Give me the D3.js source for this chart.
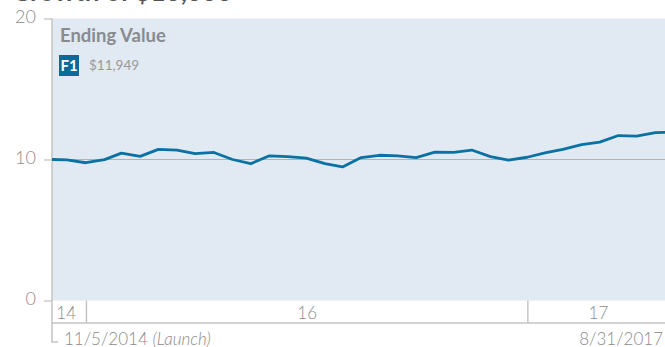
<!DOCTYPE html>
<html>
<head>
<meta charset="utf-8">
<script src="https://cdn.jsdelivr.net/npm/d3@7"></script>
<style>
  body { margin: 0; background: #fff; }
  svg { display: block; font-family: Lato, "Open Sans", sans-serif; }
</style>
</head>
<body>
<div id="chart"></div>
<script>
// month-end values of a $10,000 investment (in thousands)
const dates = ["2014-11-05", "2014-11-30", "2014-12-31",
  "2015-01-31", "2015-02-28", "2015-03-31", "2015-04-30", "2015-05-31", "2015-06-30",
  "2015-07-31", "2015-08-31", "2015-09-30", "2015-10-31", "2015-11-30", "2015-12-31",
  "2016-01-31", "2016-02-29", "2016-03-31", "2016-04-30", "2016-05-31", "2016-06-30",
  "2016-07-31", "2016-08-31", "2016-09-30", "2016-10-31", "2016-11-30", "2016-12-31",
  "2017-01-31", "2017-02-28", "2017-03-31", "2017-04-30", "2017-05-31", "2017-06-30",
  "2017-07-31", "2017-08-31"];
const values = [10.0, 9.98, 9.77,
  9.99, 10.45, 10.22, 10.72, 10.67, 10.41,
  10.5, 10.0, 9.7, 10.26, 10.2, 10.1,
  9.71, 9.47, 10.14, 10.3, 10.25, 10.13,
  10.52, 10.51, 10.67, 10.2, 9.96, 10.16,
  10.48, 10.72, 11.05, 11.23, 11.7, 11.66,
  11.9, 11.949];
const yTicks = [0, 10, 20];
const yearBreaks = ["2015-01-01", "2017-01-01"];
const yearLabels = ["14", "16", "17"];
const endingValue = "$11,949";

const w = 665, h = 347;
// the chart runs a little past the right edge of the window
const padL = 52, padR = 674, plotTop = 18.5, plotBottom = 300.5, bandBottom = 323;
const parse = d3.timeParse("%Y-%m-%d");
const data = dates.map((d, i) => [parse(d), values[i]]);

const xScale = d3.scaleTime()
  .domain([data[0][0], data[data.length - 1][0]])
  .range([padL, padR]);
const yScale = d3.scaleLinear().domain([0, 20]).range([plotBottom, plotTop]);

const svg = d3.select("#chart").append("svg").attr("width", w).attr("height", h);

// clipped title from above
svg.append("text").attr("x", 232).attr("y", 0.5).attr("text-anchor", "end")
  .attr("font-size", 26).attr("font-weight", 700).attr("fill", "#555")
  .text("Growth of $10,000");

// plot background
svg.append("rect").attr("x", padL).attr("y", plotTop)
  .attr("width", padR - padL).attr("height", plotBottom - plotTop)
  .attr("fill", "#e1e9f2");

// y axis
const yAxis = d3.axisLeft(yScale).tickValues(yTicks).tickSize(8).tickPadding(8);
const gy = svg.append("g").attr("transform", "translate(" + padL + ",0)").call(yAxis);
gy.select(".domain").remove();
gy.selectAll(".tick line").attr("stroke", "#b3b3b3");
gy.selectAll(".tick text").attr("fill", "#8c8c8c").attr("font-size", 18)
  .attr("font-weight", 300).attr("font-family", "Lato, sans-serif").attr("dy", "0.2em");

// reference line at 10
svg.append("line").attr("x1", padL).attr("x2", padR)
  .attr("y1", yScale(10)).attr("y2", yScale(10))
  .attr("stroke", "#b3b3b3").attr("stroke-width", 1.2);

// left axis line with launch hook
svg.append("path")
  .attr("d", "M" + padL + "," + plotTop + "V342H" + (padL + 6))
  .attr("fill", "none").attr("stroke", "#c4c4c4").attr("stroke-width", 1.5);

// year band
svg.append("line").attr("x1", padL).attr("x2", padR)
  .attr("y1", bandBottom).attr("y2", bandBottom)
  .attr("stroke", "#c4c4c4").attr("stroke-width", 1.5);
const bounds = [xScale.domain()[0]].concat(yearBreaks.map(parse), [xScale.domain()[1]]);
yearBreaks.forEach(d => {
  svg.append("line").attr("x1", xScale(parse(d))).attr("x2", xScale(parse(d)))
    .attr("y1", plotBottom).attr("y2", bandBottom)
    .attr("stroke", "#c4c4c4").attr("stroke-width", 1.5);
});
yearLabels.forEach((lab, i) => {
  const x0 = xScale(bounds[i]), x1 = Math.min(xScale(bounds[i + 1]), w);
  svg.append("text")
    .attr("x", (x0 + x1) / 2 - (i === 0 ? 3 : 0) + (i === 2 ? 2 : 0))
    .attr("y", 319).attr("text-anchor", "middle")
    .attr("font-size", 17).attr("font-weight", 300).attr("fill", "#8c8c8c")
    .text(lab);
});

// date labels
const launch = svg.append("text").attr("x", 64).attr("y", 345)
  .attr("font-size", 17).attr("font-weight", 300).attr("fill", "#8c8c8c");
launch.append("tspan").text("11/5/2014 ");
launch.append("tspan").attr("font-style", "italic").text("(Launch)");
svg.append("text").attr("x", 663).attr("y", 345).attr("text-anchor", "end")
  .attr("font-size", 17).attr("font-weight", 300).attr("fill", "#8c8c8c")
  .text("8/31/2017");

// line
const line = d3.line().x(d => xScale(d[0])).y(d => yScale(d[1]));
svg.append("path").datum(data)
  .attr("d", line).attr("fill", "none")
  .attr("stroke", "#0a72a3").attr("stroke-width", 2.8)
  .attr("stroke-linejoin", "round");

// legend
svg.append("text").attr("x", 60).attr("y", 42)
  .attr("font-size", 18.5).attr("font-weight", 700).attr("fill", "#888c91")
  .text("Ending Value");
svg.append("rect").attr("x", 59).attr("y", 55).attr("width", 20).attr("height", 21)
  .attr("fill", "#0b6a97");
svg.append("text").attr("x", 69).attr("y", 71).attr("text-anchor", "middle")
  .attr("font-size", 15).attr("font-weight", 700).attr("fill", "#fff")
  .text("F1");
svg.append("text").attr("x", 89).attr("y", 70)
  .attr("font-size", 13.5).attr("fill", "#999")
  .text(endingValue);
</script>
</body>
</html>
